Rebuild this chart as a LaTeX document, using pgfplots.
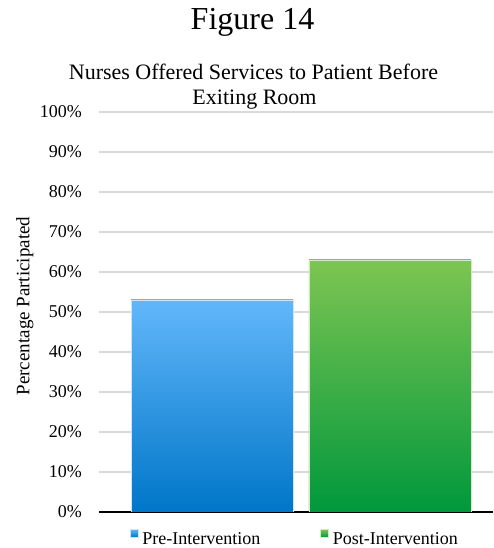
\documentclass[border=0pt]{standalone}
\usepackage{pgfplots}
\pgfplotsset{compat=1.18}
\usepackage{fontspec}
\setmainfont{Liberation Serif}
\definecolor{bluetop}{RGB}{98,183,250}
\definecolor{bluebot}{RGB}{0,118,200}
\definecolor{greentop}{RGB}{125,197,82}
\definecolor{greenbot}{RGB}{0,152,60}
\definecolor{gridgray}{RGB}{217,217,217}
\begin{document}
\begin{tikzpicture}
\useasboundingbox (0,0) rectangle (493pt,548pt);
\node[anchor=base, font=\fontsize{32}{36}\selectfont] at (252.5pt,518pt) {Figure 14};
\node[anchor=base, font=\fontsize{22}{26}\selectfont] at (253.5pt,468pt) {Nurses Offered Services to Patient Before};
\node[anchor=base, font=\fontsize{22}{26}\selectfont] at (254.5pt,443pt) {Exiting Room};
\begin{axis}[
  at={(99pt,36pt)}, anchor=south west,
  scale only axis, width=394pt, height=400pt,
  ybar, bar shift=0pt, bar width=0.91,
  xmin=-0.635, xmax=1.579, ymin=0, ymax=100,
  xtick=\empty,
  ytick={0,10,...,100},
  yticklabel={\pgfmathprintnumber{\tick}\%},
  /pgf/number format/assume math mode=true,
  major tick length=0pt,
  ymajorgrids, grid style={gridgray, line width=1.5pt},
  axis x line*=bottom, axis y line*=left,
  y axis line style={draw=none},
  x axis line style={black, line width=1.2pt},
  tick label style={font=\fontsize{18}{20}\selectfont},
  yticklabel style={inner sep=0pt, anchor=east, xshift=-17pt},
  ylabel={Percentage Participated},
  every axis y label/.style={at={(axis description cs:-0.188,0.515)}, rotate=90, anchor=center, font=\fontsize{19}{22}\selectfont},
  legend columns=2,
  legend style={at={(0.497,-0.042)}, anchor=north, draw=none, fill=none, inner sep=0pt,
    font=\fontsize{18}{20}\selectfont,
    /tikz/every even column/.append style={column sep=58pt},
    /tikz/every odd column/.append style={column sep=0pt}},
  legend image code/.code={\path[#1] (0pt,1.5pt) rectangle (8pt,9.5pt);},
  legend cell align=left,
]
\addplot[draw=bluetop!35!white, line width=0.6pt, top color=bluetop, bottom color=bluebot] coordinates {(0,53)};
\addlegendentry{\hspace{2pt}Pre-Intervention}
\addplot[draw=greentop!35!white, line width=0.6pt, top color=greentop, bottom color=greenbot] coordinates {(1,63)};
\addlegendentry{\hspace{2pt}Post-Intervention}
\end{axis}
\end{tikzpicture}
\end{document}
